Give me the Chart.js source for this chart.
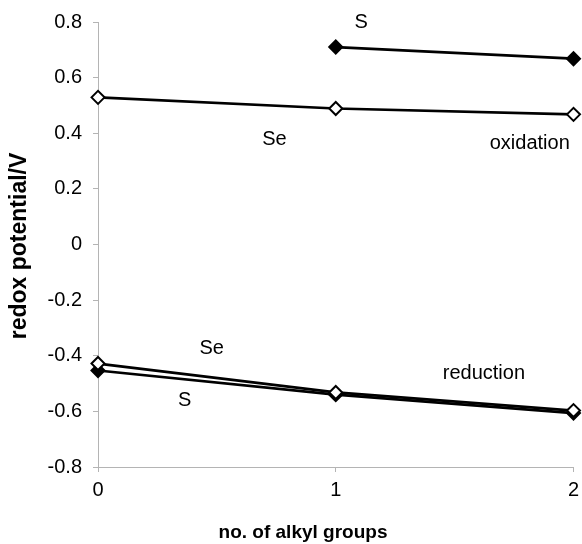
<!DOCTYPE html>
<html><head><meta charset="utf-8">
<script src="https://cdn.jsdelivr.net/npm/chart.js@4/dist/chart.umd.min.js"></script>
<style>html,body{margin:0;padding:0;background:#fff;overflow:hidden}canvas{display:block}</style>
</head><body>
<canvas id="c" width="582" height="544"></canvas>
<script>
const xValues = [0, 1, 2];
const oxS = [null, 0.71, 0.668];
const oxSe = [0.529, 0.489, 0.468];
const redS = [-0.453, -0.54, -0.606];
const redSe = [-0.428, -0.532, -0.597];
const yTicks = [-0.8, -0.6, -0.4, -0.2, 0, 0.2, 0.4, 0.6, 0.8];
const xTicks = [0, 1, 2];
const xTitle = 'no. of alkyl groups';
const yTitle = 'redox potential/V';
const labelTexts = ['S', 'Se', 'oxidation', 'Se', 'reduction', 'S'];
const labelX = [1.107, 0.742, 1.816, 0.478, 1.623, 0.365];
const labelY = [0.80, 0.378, 0.363, -0.374, -0.464, -0.561];

const FONT = "'Liberation Sans', Arial, sans-serif";
const toPts = arr => xValues.map((x, i) => ({x, y: arr[i]})).filter(p => p.y !== null);

function ds(data, filled) {
  return {
    data: toPts(data),
    borderColor: '#000', borderWidth: 2.7,
    pointStyle: 'rectRot', pointRadius: 6.5, pointHoverRadius: 6.5,
    pointBorderWidth: 2, pointBorderColor: '#000',
    pointBackgroundColor: filled ? '#000' : '#fff',
    tension: 0, fill: false, clip: false
  };
}

const textPlugin = {
  id: 'texts',
  afterDatasetsDraw(chart) {
    const {ctx, scales: {x, y}} = chart;
    ctx.save();
    ctx.font = '20px ' + FONT;
    ctx.fillStyle = '#000';
    ctx.textAlign = 'center';
    ctx.textBaseline = 'middle';
    labelTexts.forEach((t, i) => ctx.fillText(t, x.getPixelForValue(labelX[i]), y.getPixelForValue(labelY[i])));
    ctx.font = 'bold 19px ' + FONT;
    ctx.fillText(xTitle, 303, 533);
    ctx.translate(20, 246);
    ctx.rotate(-Math.PI / 2);
    ctx.font = 'bold 23px ' + FONT;
    ctx.fillText(yTitle, 0, 0);
    ctx.restore();
  }
};

new Chart(document.getElementById('c'), {
  type: 'line',
  data: { datasets: [ds(redSe, false), ds(redS, true), ds(oxSe, false), ds(oxS, true)] },
  options: {
    responsive: false, animation: false,
    layout: { padding: { top: 22, right: 7, left: 0, bottom: 0 } },
    plugins: { legend: { display: false }, tooltip: { enabled: false } },
    scales: {
      x: {
        type: 'linear', min: 0, max: 2,
        afterBuildTicks: s => { s.ticks = xTicks.map(v => ({value: v})); },
        afterFit: s => { s.height = 77; s.paddingRight = 0; s.paddingLeft = 0; },
        grid: { display: true, drawOnChartArea: false, tickLength: 5, color: '#b4b4b4' },
        border: { color: '#b4b4b4', width: 1 },
        ticks: { color: '#000', font: { size: 20, family: FONT }, padding: 6, maxRotation: 0 },
        title: { display: false }
      },
      y: {
        type: 'linear', min: -0.8, max: 0.8,
        afterBuildTicks: s => { s.ticks = yTicks.map(v => ({value: v})); },
        afterFit: s => { s.width = 98; s.paddingTop = 0; s.paddingBottom = 0; },
        grid: { display: true, drawOnChartArea: false, tickLength: 5, color: '#b4b4b4' },
        border: { color: '#b4b4b4', width: 1 },
        ticks: { color: '#000', font: { size: 20, family: FONT }, padding: 11,
                 callback: v => String(Math.round(v * 10) / 10) },
        title: { display: false }
      }
    }
  },
  plugins: [textPlugin]
});
</script>
</body></html>
